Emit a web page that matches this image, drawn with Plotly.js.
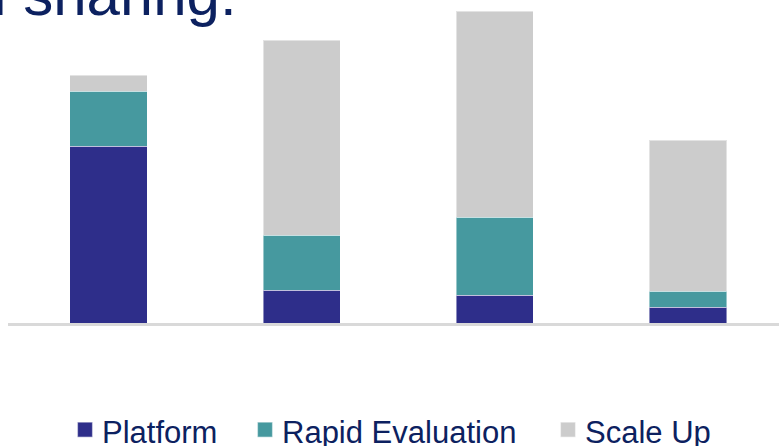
<!DOCTYPE html>
<html>
<head>
<meta charset="utf-8">
<script src="https://cdn.plot.ly/plotly-3.0.1.min.js"></script>
<style>html,body{margin:0;padding:0;background:#fff;}#chart{width:779px;height:446px;}</style>
</head>
<body>
<div id="chart"></div>
<script>
// Data (arbitrary units)
const categories = ["Project A", "Project B", "Project C", "Project D"];
const platform = [177, 33, 28, 16];
const rapidEvaluation = [55, 55, 78, 16];
const scaleUp = [16, 195, 206, 151];
const seriesNames = ["Platform", "Rapid Evaluation", "Scale Up"];
const titleText = "Burden sharing:";

const colors = ["#2e2e8a", "#46999f", "#cccccc"];
const textColor = "#0c2160";
const seriesValues = [platform, rapidEvaluation, scaleUp];
const legendIds = ["legend", "legend2", "legend3"];
const legendTextStartPx = [102, 282, 585];

const W = 779, H = 446;
const plotLeft = 8, plotWidth = 771, plotHeight = 323;
const pxToPaperX = px => (px - plotLeft) / plotWidth;

const traces = seriesValues.map((vals, i) => ({
  type: "bar",
  name: seriesNames[i],
  x: categories,
  y: vals,
  width: 0.4,
  marker: {color: colors[i], line: {color: "rgba(255,255,255,0.45)", width: 1}},
  legend: legendIds[i],
  hoverinfo: "skip"
}));

const layout = {
  width: W,
  height: H,
  margin: {l: plotLeft, r: 0, t: 0, b: H - plotHeight, autoexpand: false},
  paper_bgcolor: "#ffffff",
  plot_bgcolor: "#ffffff",
  barmode: "stack",
  showlegend: true,
  font: {family: "Liberation Sans, Arial, sans-serif", color: textColor},
  xaxis: {
    type: "category",
    range: [-0.52, 3.471],
    showticklabels: false,
    ticks: "",
    showgrid: false,
    zeroline: false,
    showline: true,
    linecolor: "#d9d9d9",
    linewidth: 2.5,
    fixedrange: true
  },
  yaxis: {
    range: [0, plotHeight],
    visible: false,
    showgrid: false,
    zeroline: false,
    fixedrange: true
  },
  annotations: [{
    text: titleText,
    xref: "paper", yref: "paper",
    x: pxToPaperX(239), xanchor: "right",
    y: 1.1257, yanchor: "top",
    showarrow: false,
    font: {family: "Liberation Sans, Arial, sans-serif", size: 60, color: textColor}
  }]
};

legendIds.forEach((id, i) => {
  layout[id] = {
    orientation: "h",
    xref: "container", yref: "container",
    x: (legendTextStartPx[i] - 40) / W,
    xanchor: "left",
    y: 1 - 431 / H,
    yanchor: "middle",
    bgcolor: "rgba(0,0,0,0)",
    borderwidth: 0,
    font: {family: "Liberation Sans, Arial, sans-serif", size: 31, color: textColor}
  };
});

Plotly.newPlot("chart", traces, layout, {staticPlot: true, displayModeBar: false}).then(gd => {
  // enlarge legend swatches to match the reference's ~15px squares
  gd.querySelectorAll(".legendpoints path").forEach(p => {
    const t = p.getAttribute("transform") || "";
    p.setAttribute("transform", (t + " translate(3,-1) scale(1.25)").trim());
  });
});
</script>
</body>
</html>
